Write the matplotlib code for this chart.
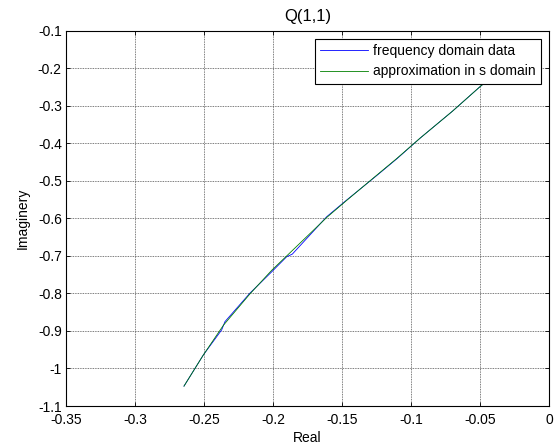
import numpy as np
import matplotlib
matplotlib.use("Agg")
import matplotlib.pyplot as plt

plt.rcParams['font.family'] = ['Liberation Sans', 'DejaVu Sans']
plt.rcParams['font.size'] = 10

# Q(1,1) response, real vs imaginary part
freq_re = [-0.2645, -0.2505, -0.2372, -0.2348, -0.2167, -0.2009, -0.1901, -0.1860,
           -0.1610, -0.1467, -0.1250, -0.1100, -0.0935, -0.0700, -0.0500, -0.0380]
freq_im = [-1.047, -0.964, -0.897, -0.875, -0.799, -0.742, -0.702, -0.695,
           -0.595, -0.551, -0.486, -0.440, -0.386, -0.314, -0.2485, -0.212]

approx_re = [-0.2645, -0.2505, -0.2360, -0.2167, -0.2009, -0.1890, -0.1610,
             -0.1467, -0.1250, -0.1100, -0.0935, -0.0700, -0.0500, -0.0380]
approx_im = [-1.047, -0.964, -0.885, -0.801, -0.738, -0.696, -0.597,
             -0.552, -0.485, -0.439, -0.386, -0.314, -0.2485, -0.212]

xticklabels = ['-0.35', '-0.3', '-0.25', '-0.2', '-0.15', '-0.1', '-0.05', '0']
yticklabels = ['-1.1', '-1', '-0.9', '-0.8', '-0.7', '-0.6', '-0.5', '-0.4',
               '-0.3', '-0.2', '-0.1']

fig = plt.figure(figsize=(5.55, 4.48), dpi=100)
ax = fig.add_axes([66/555, 1 - 406/448, (549-66)/555, (406-31)/448])

ax.plot(freq_re, freq_im, color=(0, 0, 1), lw=0.6, label='frequency domain data')
ax.plot(approx_re, approx_im, color=(0, 0.5, 0), lw=0.6, label='approximation in s domain')

ax.set_xlim(-0.35, 0)
ax.set_ylim(-1.1, -0.1)
ax.set_xticks(np.round(np.arange(-0.35, 0.001, 0.05), 2))
ax.set_yticks(np.round(np.arange(-1.1, -0.099, 0.1), 1))
ax.set_xticklabels(xticklabels)
ax.set_yticklabels(yticklabels)
ax.tick_params(direction='in', top=True, right=True, length=3, width=0.6)
ax.tick_params(axis='x', pad=5)
ax.tick_params(axis='y', pad=3)
ax.grid(True, color='#505050', linestyle=(0, (1, 1)), lw=0.6)
for s in ax.spines.values():
    s.set_linewidth(0.8)

ax.set_title('Q(1,1)', pad=7)
ax.set_xlabel('Real', labelpad=3)
ax.set_ylabel('Imaginery', labelpad=6)

leg = ax.legend(loc='upper right', fancybox=False, framealpha=1, edgecolor='black',
                borderaxespad=0.55, handlelength=3.4, handletextpad=0.4,
                borderpad=0.4, labelspacing=0.45)
leg.get_frame().set_linewidth(0.8)

fig.savefig('out.png', dpi=100)
